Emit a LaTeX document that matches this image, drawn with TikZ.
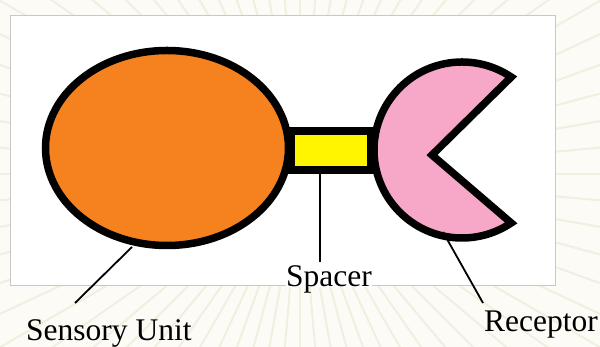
\documentclass[tikz,border=0pt]{standalone}
\usepackage{fontspec}
\setmainfont{Liberation Serif}
\definecolor{bgcream}{HTML}{FCFBF5}
\definecolor{raycol}{HTML}{F2EFE0}
\definecolor{framegray}{HTML}{C8C8C8}
\definecolor{unitorange}{HTML}{F5821F}
\definecolor{spaceryellow}{HTML}{FFF500}
\definecolor{receptorpink}{HTML}{F7A8C9}
\begin{document}
\begin{tikzpicture}[x=1pt,y=1pt,
  part/.style={draw=black,line width=7.5pt},
  leader/.style={draw=black,line width=1.8pt},
  label/.style={font=\fontsize{31.5}{36}\selectfont,inner sep=0pt}]
  % canvas and faint rays behind the panel
  \fill[bgcream] (0,0) rectangle (600,347);
  \useasboundingbox (0,0) rectangle (600,347);
  \begin{scope}
    \clip (0,0) rectangle (600,347);
    \foreach \a in {0,5,...,355}
      \draw[raycol,line width=2pt] (300,173) -- ++(\a:700);
  \end{scope}
  % white panel
  \draw[framegray,fill=white,line width=0.8pt] (10,62) rectangle (555,332);
  % spacer bar (drawn first so the two ends sit on top of it)
  \draw[part,fill=spaceryellow] (291,177) rectangle (371,216);
  \coordinate (spacerbot) at (320,174);
  % sensory unit
  \path[part,fill=unitorange] (167,199) ellipse [x radius=121.5,y radius=97.5];
  \coordinate (unitbot) at (132,100);
  % receptor: disc with a wedge cut out
  \draw[part,fill=receptorpink,line join=miter]
    (462,197) ++(56:88) arc[start angle=56,end angle=304,radius=88]
    -- (432,192) -- cycle;
  \coordinate (recbot) at (443,115);
  % labels
  \node[label,anchor=base west] (unitlab) at (26,6) {Sensory Unit};
  \node[label,anchor=base west,fill=white,text depth=0pt] (spacerlab) at (286,60) {Spacer};
  \node[label,anchor=base west] (reclab) at (484,15) {Receptor};
  % leader lines
  \coordinate (unitend) at (75,44);
  \coordinate (recend) at (483,44);
  \draw[leader] (unitbot) -- (unitend);
  \draw[leader] (spacerbot) -- ([yshift=4pt]spacerlab.north -| spacerbot);
  \draw[leader] (recbot) -- (recend);
\end{tikzpicture}
\end{document}
